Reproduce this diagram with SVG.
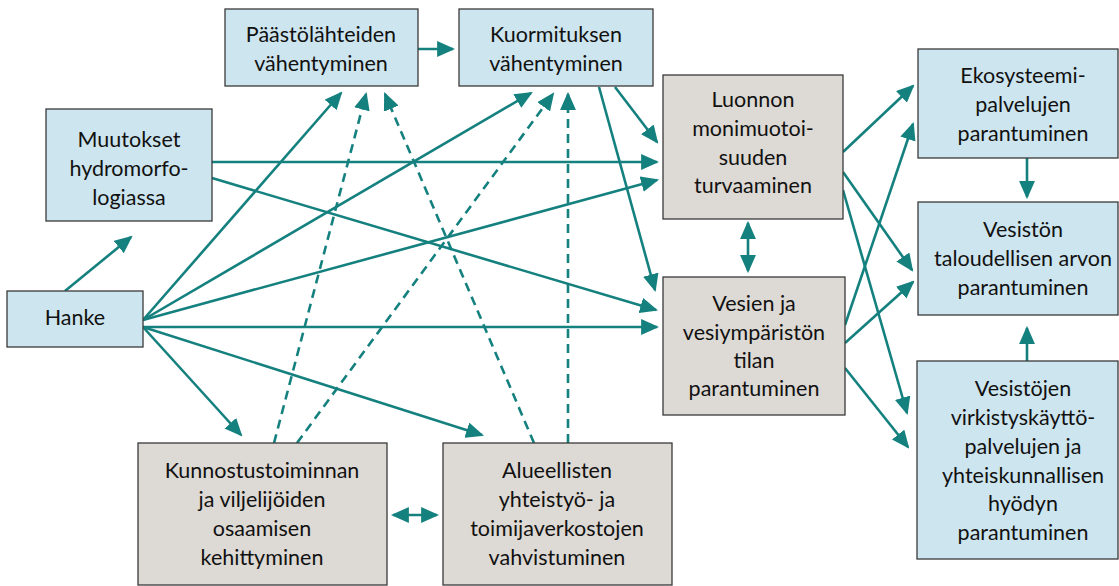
<svg xmlns="http://www.w3.org/2000/svg" width="1119" height="586" viewBox="0 0 1119 586">
<style>
.b{fill:#cde5ee;stroke:#3a3a3a;stroke-width:1.3}
.g{fill:#ddd9d4;stroke:#3a3a3a;stroke-width:1.3}
text{font-family:Lato,"Liberation Sans",sans-serif;font-size:21.5px;fill:#111;text-anchor:middle}
.c{stroke:#15817f;stroke-width:2.6;fill:none;marker-end:url(#ah)}
.d{stroke-dasharray:9,6}
.dbl{marker-start:url(#ah)}
</style>
<defs>
<marker id="ah" markerUnits="userSpaceOnUse" markerWidth="18" markerHeight="16" refX="15" refY="7.5" orient="auto-start-reverse" viewBox="0 0 17 15">
<path d="M0,0 L17,7.5 L0,15 z" fill="#15817f"/>
</marker>
</defs>
<g id="connectors">
<line class="c" x1="65" y1="291" x2="131" y2="237"/>
<line class="c" x1="418" y1="49" x2="453" y2="49"/>
<line class="c" x1="143" y1="320" x2="341" y2="93"/>
<line class="c" x1="143" y1="320" x2="531" y2="93"/>
<line class="c" x1="143" y1="320" x2="657" y2="180"/>
<line class="c" x1="143" y1="327" x2="657" y2="327"/>
<line class="c" x1="143" y1="327" x2="241" y2="435"/>
<line class="c" x1="143" y1="327" x2="482" y2="435"/>
<line class="c" x1="212" y1="162" x2="657" y2="162"/>
<line class="c" x1="212" y1="178" x2="656" y2="310"/>
<line class="c" x1="615" y1="87" x2="657" y2="142"/>
<line class="c" x1="599" y1="87" x2="655" y2="290"/>
<line class="c dbl" x1="748" y1="223" x2="748" y2="271"/>
<line class="c" x1="843" y1="152" x2="913" y2="86"/>
<line class="c" x1="843" y1="172" x2="912" y2="270"/>
<line class="c" x1="843" y1="190" x2="907" y2="413"/>
<line class="c" x1="845" y1="325" x2="913" y2="124"/>
<line class="c" x1="845" y1="343" x2="913" y2="282"/>
<line class="c" x1="845" y1="368" x2="908" y2="447"/>
<line class="c" x1="1027" y1="158" x2="1027" y2="197"/>
<line class="c" x1="1027" y1="361" x2="1027" y2="328"/>
<line class="c dbl" x1="393" y1="515" x2="437" y2="515"/>
<line class="c d" x1="274" y1="443" x2="366" y2="94"/>
<line class="c d" x1="534" y1="443" x2="385" y2="94"/>
<line class="c d" x1="297" y1="443" x2="553" y2="94"/>
<line class="c d" x1="568" y1="443" x2="568" y2="94"/>
</g>
<g id="paastolahteiden">
<rect class="b" x="225" y="9" width="193" height="77"/>
<text x="321" y="42">Päästölähteiden</text>
<text x="321" y="71">vähentyminen</text>
</g>
<g id="kuormituksen">
<rect class="b" x="459" y="9" width="194" height="77"/>
<text x="556" y="42">Kuormituksen</text>
<text x="556" y="71">vähentyminen</text>
</g>
<g id="muutokset">
<rect class="b" x="46" y="109" width="166" height="112"/>
<text x="129" y="147">Muutokset</text>
<text x="129" y="176">hydromorfo-</text>
<text x="129" y="205">logiassa</text>
</g>
<g id="hanke">
<rect class="b" x="7" y="291" width="136" height="56"/>
<text x="75" y="325">Hanke</text>
</g>
<g id="luonnon">
<rect class="g" x="663" y="75" width="180" height="144"/>
<text x="753" y="107">Luonnon</text>
<text x="753" y="136">monimuotoi-</text>
<text x="753" y="165">suuden</text>
<text x="753" y="193">turvaaminen</text>
</g>
<g id="vesien">
<rect class="g" x="663" y="277" width="182" height="138"/>
<text x="754" y="311">Vesien ja</text>
<text x="754" y="340">vesiympäristön</text>
<text x="754" y="368">tilan</text>
<text x="754" y="396">parantuminen</text>
</g>
<g id="ekosysteemi">
<rect class="b" x="918" y="49" width="200" height="109"/>
<text x="1023" y="83">Ekosysteemi-</text>
<text x="1023" y="112">palvelujen</text>
<text x="1023" y="141">parantuminen</text>
</g>
<g id="vesiston">
<rect class="b" x="918" y="202" width="200" height="113"/>
<text x="1023" y="237">Vesistön</text>
<text x="1023" y="266">taloudellisen arvon</text>
<text x="1023" y="295">parantuminen</text>
</g>
<g id="vesistojen">
<rect class="b" x="917" y="361" width="201" height="198"/>
<text x="1023" y="396">Vesistöjen</text>
<text x="1023" y="425">virkistyskäyttö-</text>
<text x="1023" y="454">palvelujen ja</text>
<text x="1023" y="483">yhteiskunnallisen</text>
<text x="1023" y="511">hyödyn</text>
<text x="1023" y="540">parantuminen</text>
</g>
<g id="kunnostus">
<rect class="g" x="138" y="443" width="249" height="142"/>
<text x="262" y="478">Kunnostustoiminnan</text>
<text x="262" y="507">ja viljelijöiden</text>
<text x="262" y="536">osaamisen</text>
<text x="262" y="565">kehittyminen</text>
</g>
<g id="alueellisten">
<rect class="g" x="443" y="443" width="229" height="142"/>
<text x="557" y="478">Alueellisten</text>
<text x="557" y="507">yhteistyö- ja</text>
<text x="557" y="536">toimijaverkostojen</text>
<text x="557" y="565">vahvistuminen</text>
</g>
</svg>
